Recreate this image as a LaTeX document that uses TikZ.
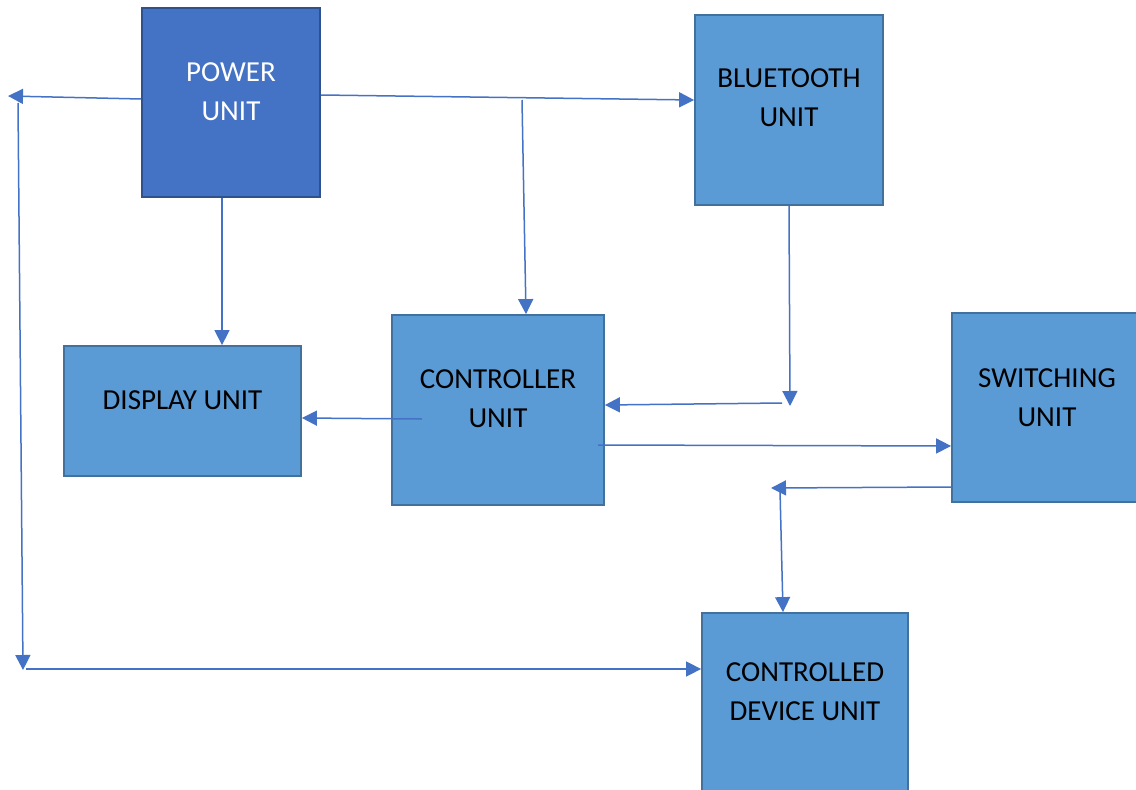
\documentclass[tikz,border=0pt]{standalone}
\usepackage{fontspec}
\usetikzlibrary{arrows.meta}
\newfontfamily\unitfamily{Carlito}
\newcommand{\unitfont}{\unitfamily\fontsize{29}{39}\selectfont}
\definecolor{boxfill}{HTML}{5B9BD5}
\definecolor{boxedge}{HTML}{41719C}
\definecolor{powfill}{HTML}{4472C4}
\definecolor{powedge}{HTML}{2F528F}
\definecolor{linec}{HTML}{4472C4}
\tikzset{
  unitbox/.style={draw=boxedge, fill=boxfill, line width=1.8pt, inner sep=0pt},
  powbox/.style={unitbox, draw=powedge, fill=powfill},
  txt/.style={align=center, font=\unitfont, text=black, inner sep=0pt},
  conn/.style={draw=linec, line width=1.5pt, -{Triangle[length=15pt,width=15pt]}},
}
\begin{document}
\begin{tikzpicture}[x=1pt,y=-1pt]
\clip (0,0) rectangle (1136,790);
\fill[white] (0,0) rectangle (1136,790);

% unit blocks
\node[powbox, minimum width=178pt, minimum height=189pt,
      label={[txt, text=white, yshift=11pt]center:POWER\\UNIT}] (pw) at (231,102.5) {};
\node[unitbox, minimum width=188pt, minimum height=190pt,
      label={[txt, yshift=12pt]center:BLUETOOTH\\UNIT}] (bt) at (789,110) {};
\node[unitbox, minimum width=237pt, minimum height=130pt,
      label={[txt, yshift=11pt]center:DISPLAY UNIT}] (dp) at (182.5,411) {};
\node[unitbox, minimum width=212pt, minimum height=190pt,
      label={[txt, yshift=11pt]center:CONTROLLER\\UNIT}] (ct) at (498,410) {};
\node[unitbox, minimum width=190pt, minimum height=189pt,
      label={[txt, yshift=10pt]center:SWITCHING\\UNIT}] (sw) at (1047,407.5) {};
\node[unitbox, minimum width=206pt, minimum height=179pt,
      label={[txt, yshift=11pt]center:CONTROLLED\\DEVICE UNIT}] (cd) at (805,702.5) {};

% free ends and junctions of the wiring
\coordinate (pl) at (8,96);
\coordinate (lt) at (18,103);
\coordinate (lb) at (23,670);
\coordinate (lr) at (26,669);
\coordinate (pj) at (522,100);
\coordinate (bj) at (790,406);
\coordinate (bs) at (782,403);
\coordinate (ci) at (422,419);
\coordinate (co) at (598,445);
\coordinate (sj) at (771,488);
\coordinate (sd) at (780,490);

% power distribution
\draw[conn] (pw.west |- 0,99) -- (pl);
\draw[conn] (lt) -- (lb);
\draw[conn] (lr) -- (cd.west |- 0,669);
\draw[conn] (pw.east |- 0,95) -- (bt.west |- 0,100);
\draw[conn] (pj) -- (ct.north -| 526,0);
\draw[conn] (pw.south -| 222,0) -- (dp.north -| 222,0);

% signal paths
\draw[conn] (bt.south) -- (bj);
\draw[conn] (bs) -- (ct.east |- 0,405);
\draw[conn] (ci) -- (dp.east |- 0,418);
\draw[conn] (co) -- (sw.west |- 0,446);
\draw[conn] (sw.west |- 0,487) -- (sj);
\draw[conn] (sd) -- (cd.north -| 783,0);
\end{tikzpicture}
\end{document}
